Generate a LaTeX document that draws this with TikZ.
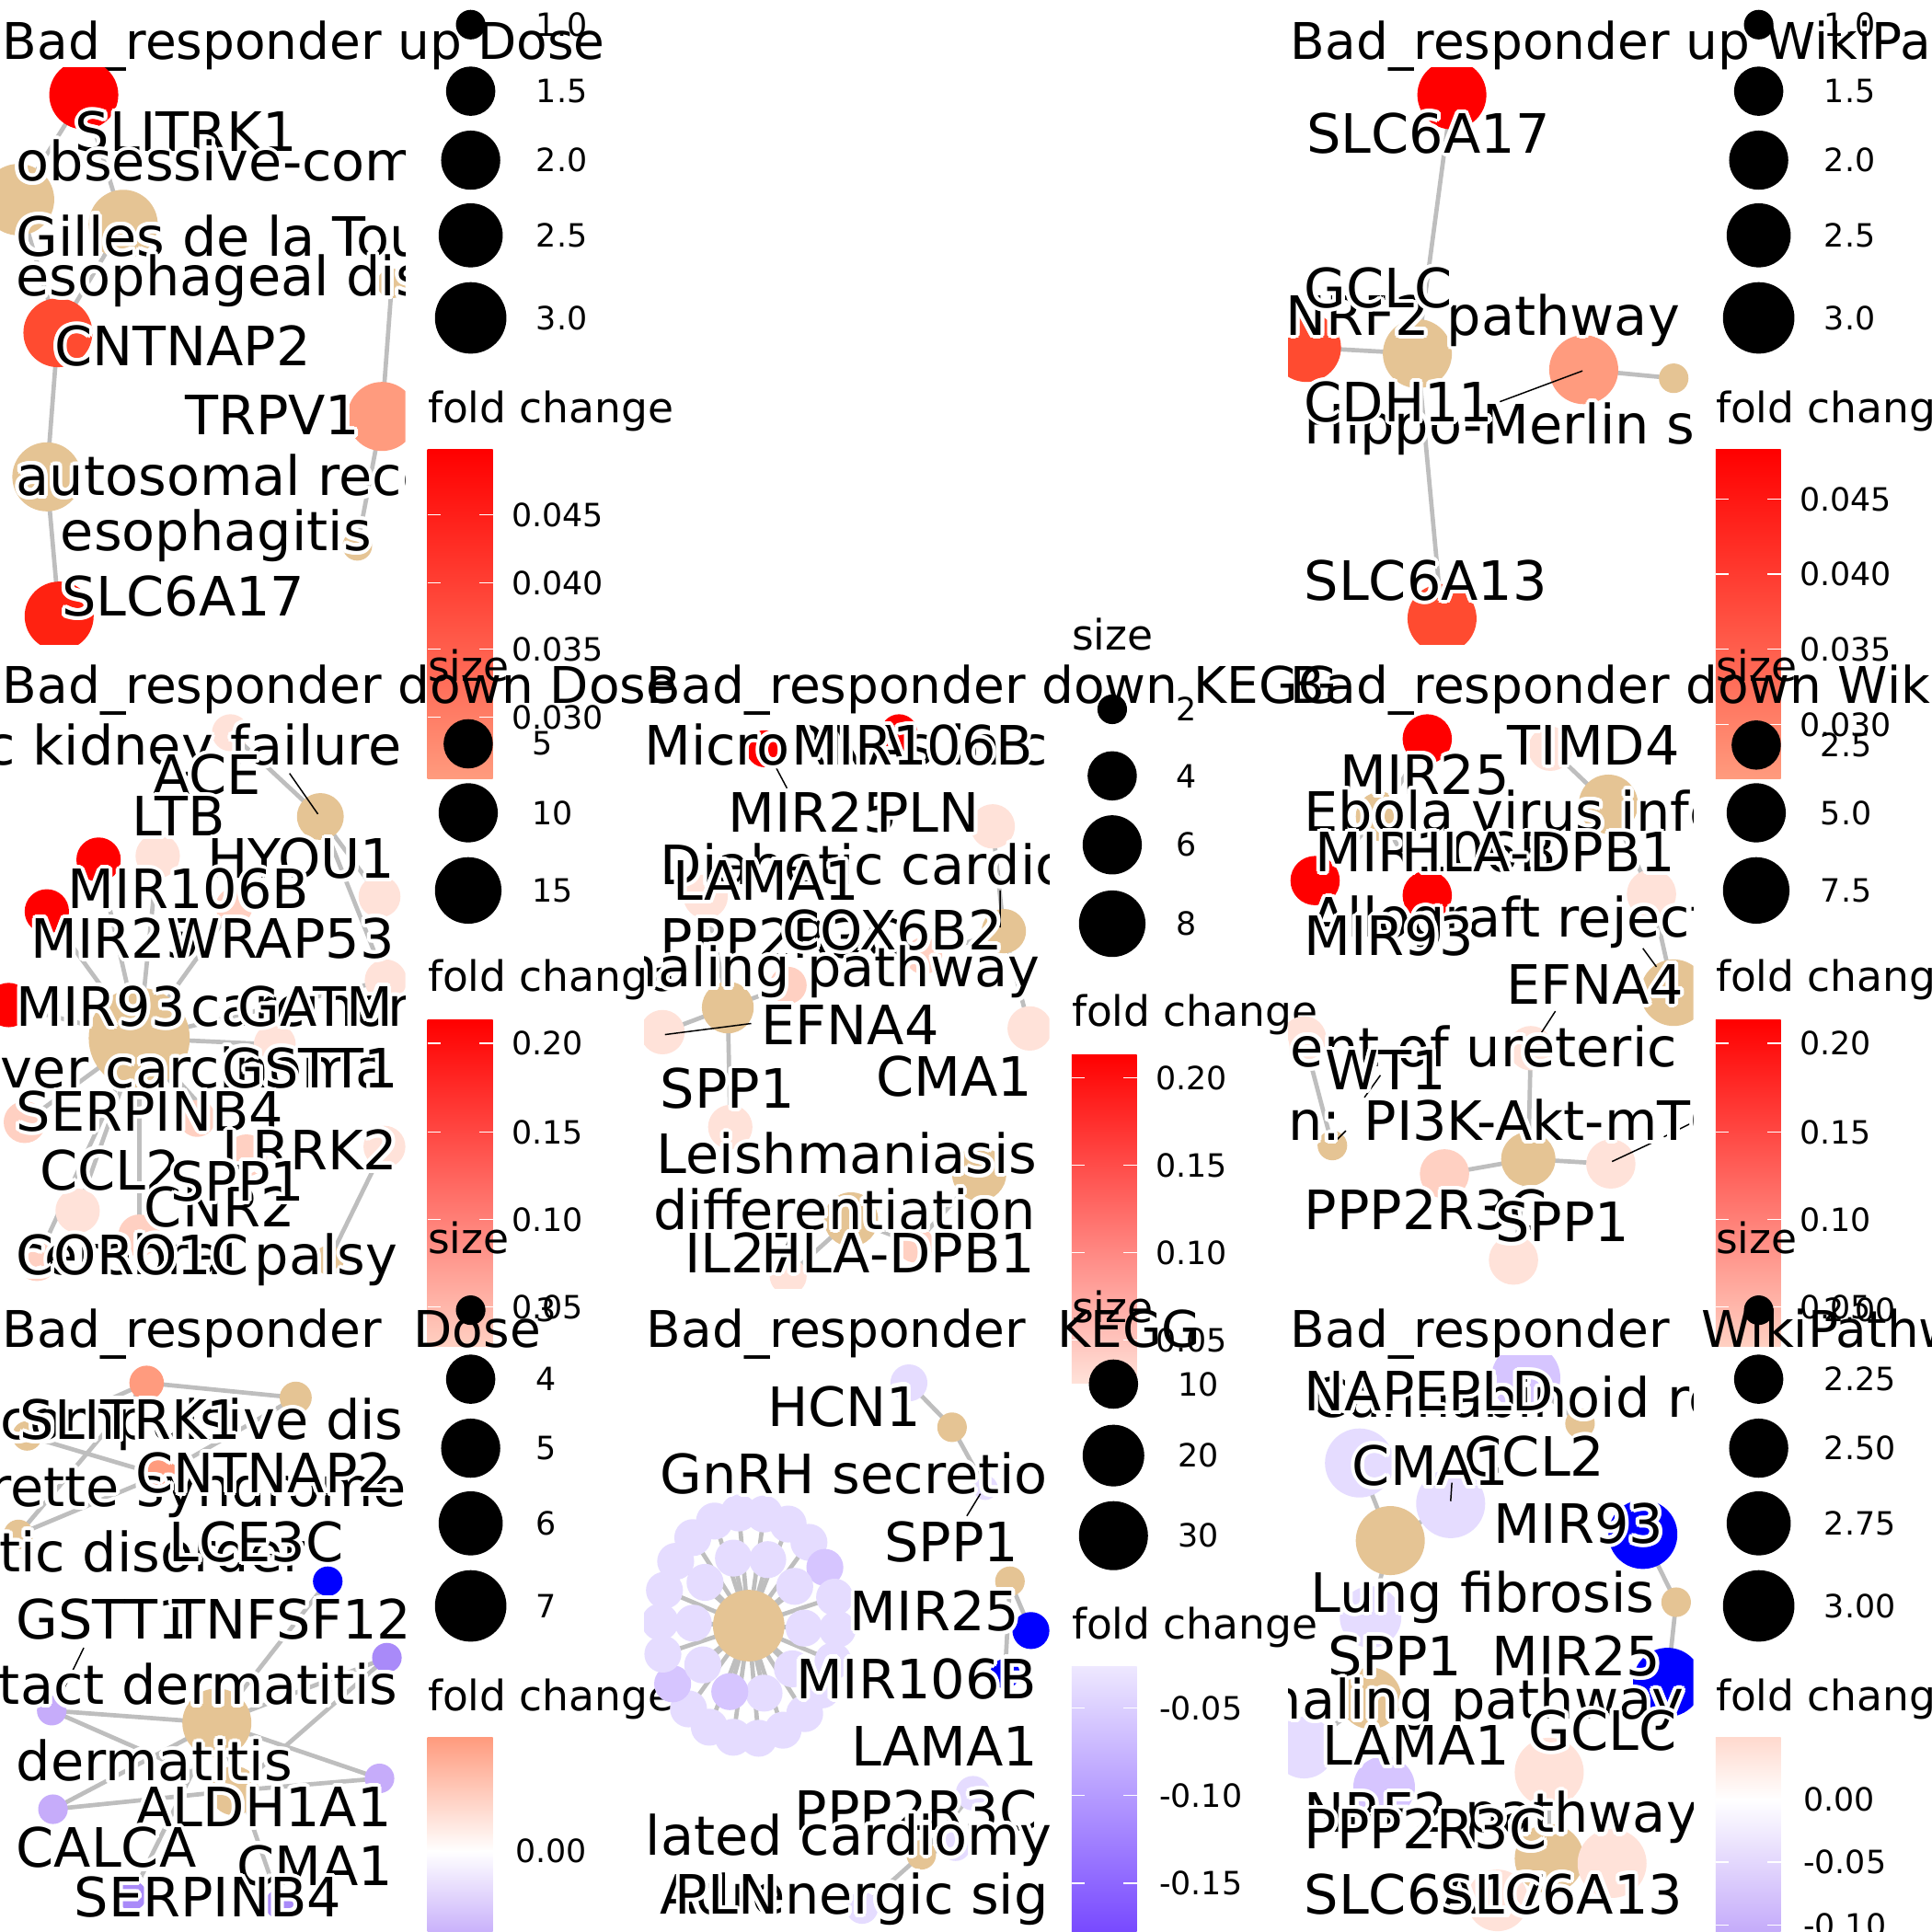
\documentclass[tikz,border=0pt]{standalone}
\usepackage{fontspec}
\setmainfont{DejaVu Sans}
\usepackage{contour}
\contourlength{3pt}

\definecolor{catnode}{HTML}{E5C494}
\definecolor{edgegray}{HTML}{BEBEBE}
\definecolor{fcred}{HTML}{FF0000}
\definecolor{fcredb}{HTML}{FF2211}
\definecolor{fcorange}{HTML}{FF4B30}
\definecolor{fcsalmon}{HTML}{FF9B7E}
\definecolor{fcpink}{HTML}{FFD0C2}
\definecolor{fcpale}{HTML}{FFE2D9}
\definecolor{fcblue}{HTML}{0000FF}
\definecolor{lavpale}{HTML}{E5DCFF}
\definecolor{lavmid}{HTML}{D6C5FF}
\definecolor{lavlight}{HTML}{C6ACFA}
\definecolor{lavdeep}{HTML}{A98AF9}
\definecolor{lavtop}{HTML}{EEE8FF}
\definecolor{lavstrong}{HTML}{7444FF}

\tikzset{
  edge/.style={draw=edgegray, line width=3.5pt},
  leader/.style={draw=black, line width=1.1pt},
  vtx/.style={circle, inner sep=0pt, draw=none, fill=#1},
  glabel/.style={anchor=base west, inner sep=0pt, font=\fontsize{44}{52}\selectfont},
  ptitle/.style={anchor=base west, inner sep=0pt, font=\fontsize{41}{49}\selectfont},
  lhead/.style={anchor=base west, inner sep=0pt, font=\fontsize{34}{41}\selectfont},
  lkey/.style={anchor=west, inner sep=0pt, font=\fontsize{26}{31}\selectfont},
  sizekey/.style={circle, inner sep=0pt, fill=black},
  tickw/.style={draw=white, line width=1pt}
}

\begin{document}
\begin{tikzpicture}[x=1pt, y=-1pt]
\fill[white] (0,0) rectangle (1568,1568);
\useasboundingbox (0,0) rectangle (1568,1568);

% ---- up Dose
\begin{scope}
  \node[ptitle] (a-title) at (2,48) {Bad\_responder up Dose};
  \begin{scope}
    \clip (0,55) rectangle (329,523);
    \def\anodes{a1/68/77/28/fcred, a2/15/162/29/catnode, a3/100/182/28/catnode, a4/318/230/12/catnode, a5/47/270/28/fcorange, a6/310/338/28/fcsalmon, a7/38/387/28/catnode, a8/290/443/12/catnode, a9/48/500/28/fcredb}
    \foreach \n/\x/\y/\r/\c in \anodes \coordinate (\n) at (\x,\y);
    \foreach \u/\v in {a1/a2, a1/a3, a2/a5, a3/a5, a5/a7, a7/a9, a4/a6, a6/a8}
      \draw[edge] (\u) -- (\v);
    \foreach \n/\x/\y/\r/\c in \anodes \node[vtx=\c, minimum size=2*\r] (\n-v) at (\n) {};
    \foreach \n/\x/\y/\t in {a-l1/61/123/SLITRK1, a-l2/13/147/obsessive-compulsive disorder,
      a-l3/13/208/Gilles de la Tourette syndrome, a-l4/13/240/esophageal disease,
      a-l5/44/297/CNTNAP2, a-l6/150/353/TRPV1, a-l7/13/402/autosomal recessive disease,
      a-l8/49/447/esophagitis, a-l9/50/500/SLC6A17}
      \node[glabel] (\n) at (\x,\y) {\contour{white}{\t}};
  \end{scope}
  \foreach \y/\r/\t [count=\i] in {20/12/1.0, 74/20/1.5, 130/24/2.0, 191/26/2.5, 258/29/3.0} {
    \node[sizekey, minimum size=2*\r] (a-k\i) at (382,\y) {};
    \node[lkey] (a-kl\i) at (435,\y) {\t};
  }
  \node[lhead] (a-fc) at (347,343) {fold change};
  \shade[top color=fcred, bottom color=fcsalmon] (347,365) rectangle (400,632);
  \foreach \y/\t [count=\i] in {418/0.045, 473/0.040, 527/0.035, 582/0.030} {
    \draw[tickw] (347,\y) -- (358,\y) (389,\y) -- (400,\y);
    \node[lkey] (a-c\i) at (415,\y) {\t};
  }
\end{scope}

% ---- up WikiPathways
\begin{scope}[shift={(1045.33,0)}]
  \node[ptitle] (b-title) at (2,48) {Bad\_responder up WikiPathways};
  \begin{scope}
    \clip (0,55) rectangle (329,523);
    \def\bnodes{b1/133/77/28/fcred, b2/105/287/28/catnode, b3/15/282/28/fcorange, b4/240/300/28/fcsalmon, b5/313/307/12/catnode, b6/125/502/28/fcorange}
    \foreach \n/\x/\y/\r/\c in \bnodes \coordinate (\n) at (\x,\y);
    \foreach \u/\v in {b1/b2, b3/b2, b2/b6, b4/b5}
      \draw[edge] (\u) -- (\v);
    \foreach \n/\x/\y/\r/\c in \bnodes \node[vtx=\c, minimum size=2*\r] (\n-v) at (\n) {};
    \draw[leader] (172,326) -- (239,301);
    \foreach \n/\x/\y/\t in {b-l1/15/124/SLC6A17, b-l2/-2/272/NRF2 pathway, b-l3/13/250/GCLC,
      b-l4/13/360/Hippo-Merlin signaling dysregulation, b-l5/13/342/CDH11, b-l6/13/487/SLC6A13}
      \node[glabel] (\n) at (\x,\y) {\contour{white}{\t}};
  \end{scope}
  \foreach \y/\r/\t [count=\i] in {20/12/1.0, 74/20/1.5, 130/24/2.0, 191/26/2.5, 258/29/3.0} {
    \node[sizekey, minimum size=2*\r] (b-k\i) at (382,\y) {};
    \node[lkey] (b-kl\i) at (435,\y) {\t};
  }
  \node[lhead] (b-fc) at (347,343) {fold change};
  \shade[top color=fcred, bottom color=fcsalmon] (347,365) rectangle (400,632);
  \foreach \y/\t [count=\i] in {405/0.045, 466/0.040, 527/0.035, 588/0.030} {
    \draw[tickw] (347,\y) -- (358,\y) (389,\y) -- (400,\y);
    \node[lkey] (b-c\i) at (415,\y) {\t};
  }
\end{scope}

% ---- down Dose
\begin{scope}[shift={(0,522.67)}]
  \node[ptitle] (c-title) at (2,48) {Bad\_responder down Dose};
  \begin{scope}
    \clip (0,55) rectangle (329,523);
    \def\cnodes{c0/113/320/41/catnode, c1/80/175/18/fcred, c2/38/217/18/fcred, c3/7/293/18/fcred, c4/128/172/18/fcpale, c5/187/72/15/fcpale, c6/260/140/19/catnode, c7/308/205/17/fcpale, c8/313/273/17/fcpale, c9/223/325/17/fcpale, c10/190/213/15/fcpink, c11/20/388/17/fcpink, c12/63/460/18/fcpale, c13/312/408/17/fcpale, c14/267/500/12/catnode, c15/200/415/17/fcpink, c16/113/480/17/fcpink, c17/160/385/15/fcpink, c18/30/500/17/fcpink}
    \foreach \n/\x/\y/\r/\c in \cnodes \coordinate (\n) at (\x,\y);
    \foreach \u/\v in {c0/c1, c0/c2, c0/c3, c0/c4, c0/c9, c0/c10, c0/c11, c0/c12, c0/c15, c0/c16, c0/c17, c0/c18, c0/c8, c5/c6, c6/c7, c6/c8, c13/c14}
      \draw[edge] (\u) -- (\v);
    \foreach \n/\x/\y/\r/\c in \cnodes \node[vtx=\c, minimum size=2*\r] (\n-v) at (\n) {};
    \draw[leader] (235,105) -- (258,138);
    \foreach \n/\x/\y/\t in {c-l1/-148/98/chronic kidney failure, c-l2/124/122/ACE, c-l3/107/156/LTB,
      c-l4/168/190/HYOU1, c-l5/55/215/MIR106B, c-l6/25/255/MIR25, c-l7/135/255/WRAP53,
      c-l8/155/310/carcinoma, c-l9/13/310/MIR93, c-l10/193/310/GATM, c-l11/-24/360/liver carcinoma,
      c-l12/180/360/GSTT1, c-l13/13/395/SERPINB4, c-l14/180/427/LRRK2, c-l15/32/443/CCL2,
      c-l16/117/473/CNR2, c-l17/138/452/SPP1, c-l18/12/512/cerebral palsy, c-l19/13/512/CORO1C}
      \node[glabel] (\n) at (\x,\y) {\contour{white}{\t}};
  \end{scope}
  \node[lhead] (c-size) at (347,30) {size};
  \foreach \y/\r/\t [count=\i] in {81/20/5, 137/24/10, 200/27/15} {
    \node[sizekey, minimum size=2*\r] (c-k\i) at (380,\y) {};
    \node[lkey] (c-kl\i) at (432,\y) {\t};
  }
  \node[lhead] (c-fc) at (347,282) {fold change};
  \shade[top color=fcred, bottom color=fcpink] (347,305) rectangle (400,570);
  \foreach \y/\t [count=\i] in {324/0.20, 396/0.15, 467/0.10, 538/0.05} {
    \draw[tickw] (347,\y) -- (358,\y) (389,\y) -- (400,\y);
    \node[lkey] (c-c\i) at (415,\y) {\t};
  }
\end{scope}

% ---- down KEGG
\begin{scope}[shift={(522.67,522.67)}]
  \node[ptitle] (d-title) at (2,48) {Bad\_responder down KEGG};
  \begin{scope}
    \clip (0,55) rectangle (329,523);
    \def\dnodes{d1/98/85/15/fcred, d2/207/72/15/fcred, d3/283/148/18/fcpale, d4/50/205/18/fcpale, d5/292/233/18/catnode, d6/117/277/15/fcpink, d7/68/295/21/catnode, d8/15/315/18/fcpale, d9/313/312/18/fcpale, d10/70/392/18/fcpale, d11/272/430/22/catnode, d12/168/467/22/catnode, d13/117/513/15/fcpale, d14/227/253/15/fcpink, d16/220/487/15/fcpink}
    \foreach \n/\x/\y/\r/\c in \dnodes \coordinate (\n) at (\x,\y);
    \foreach \u/\v in {d7/d8, d7/d10, d7/d6, d7/d4, d5/d14, d5/d9, d5/d3, d12/d13, d11/d16, d12/d16}
      \draw[edge] (\u) -- (\v);
    \foreach \n/\x/\y/\r/\c in \dnodes \node[vtx=\c, minimum size=2*\r] (\n-v) at (\n) {};
    \draw[leader] (107,100) -- (116,117) (289,200) -- (289,230) (17,317) -- (87,308);
    \foreach \n/\x/\y/\t in {d-l1/0/98/MicroRNAs in cancer, d-l2/120/98/MIR106B, d-l3/68/153/MIR25,
      d-l4/188/153/PLN, d-l5/13/195/Diabetic cardiomyopathy, d-l6/23/208/LAMA1, d-l7/13/255/PPP2R3C,
      d-l8/112/248/COX6B2, d-l9/-80/278/signaling pathway, d-l10/95/325/EFNA4, d-l11/188/367/CMA1,
      d-l12/13/377/SPP1, d-l13/10/430/Leishmaniasis, d-l14/-207/475/Th17 cell differentiation,
      d-l15/33/510/IL27, d-l16/95/510/HLA-DPB1}
      \node[glabel] (\n) at (\x,\y) {\contour{white}{\t}};
  \end{scope}
  \node[lhead] (d-size) at (347,5) {size};
  \foreach \y/\r/\t [count=\i] in {53/12/2, 107/20/4, 163/24/6, 227/27/8} {
    \node[sizekey, minimum size=2*\r] (d-k\i) at (380,\y) {};
    \node[lkey] (d-kl\i) at (432,\y) {\t};
  }
  \node[lhead] (d-fc) at (347,310) {fold change};
  \shade[top color=fcred, bottom color=fcpale] (347,333) rectangle (400,600);
  \foreach \y/\t [count=\i] in {352/0.20, 423/0.15, 494/0.10, 565/0.05} {
    \draw[tickw] (347,\y) -- (358,\y) (389,\y) -- (400,\y);
    \node[lkey] (d-c\i) at (415,\y) {\t};
  }
\end{scope}

% ---- down WikiPathways
\begin{scope}[shift={(1045.33,522.67)}]
  \node[ptitle] (e-title) at (2,48) {Bad\_responder down WikiPathways};
  \begin{scope}
    \clip (0,55) rectangle (329,523);
    \def\enodes{e1/113/77/20/fcred, e2/213/85/18/fcpale, e3/260/130/24/catnode, e15/75/140/20/catnode, e4/22/192/20/fcred, e5/113/204/20/fcred, e6/295/203/20/fcpale, e7/313/283/27/catnode, e8/197/328/18/fcpale, e9/13/320/18/fcpale, e10/36/407/12/catnode, e11/195/418/22/catnode, e12/127/430/20/fcpink, e13/262/422/20/fcpale, e14/183/500/20/fcpale}
    \foreach \n/\x/\y/\r/\c in \enodes \coordinate (\n) at (\x,\y);
    \foreach \u/\v in {e2/e3, e6/e3, e6/e7, e15/e1, e15/e4, e15/e5, e9/e10, e8/e11, e11/e12, e11/e13, e11/e14}
      \draw[edge] (\u) -- (\v);
    \foreach \n/\x/\y/\r/\c in \enodes \node[vtx=\c, minimum size=2*\r] (\n-v) at (\n) {};
    \draw[leader] (288,247) -- (299,262) (217,298) -- (204,318) (75,350) -- (62,368)
      (47,395) -- (37,405) (263,420) -- (295,405) (305,400) -- (329,388);
    \foreach \n/\x/\y/\t in {e-l1/178/98/TIMD4, e-l2/42/122/MIR25, e-l3/13/152/Ebola virus infection,
      e-l4/22/185/MIR106B, e-l5/92/185/HLA-DPB1, e-l6/18/238/Allograft rejection, e-l7/13/253/MIR93,
      e-l8/177/292/EFNA4, e-l9/-222/343/Development of ureteric collecting system, e-l10/30/362/WT1,
      e-l11/-300/403/Focal adhesion: PI3K-Akt-mTOR-signaling pathway, e-l12/13/475/PPP2R3C,
      e-l13/168/485/SPP1}
      \node[glabel] (\n) at (\x,\y) {\contour{white}{\t}};
  \end{scope}
  \node[lhead] (e-size) at (347,30) {size};
  \foreach \y/\r/\t [count=\i] in {82/20/2.5, 137/24/5.0, 200/27/7.5} {
    \node[sizekey, minimum size=2*\r] (e-k\i) at (380,\y) {};
    \node[lkey] (e-kl\i) at (432,\y) {\t};
  }
  \node[lhead] (e-fc) at (347,282) {fold change};
  \shade[top color=fcred, bottom color=fcpink] (347,305) rectangle (400,570);
  \foreach \y/\t [count=\i] in {324/0.20, 396/0.15, 467/0.10, 538/0.05} {
    \draw[tickw] (347,\y) -- (358,\y) (389,\y) -- (400,\y);
    \node[lkey] (e-c\i) at (415,\y) {\t};
  }
\end{scope}

% ---- all Dose
\begin{scope}[shift={(0,1045.33)}]
  \node[ptitle] (f-title) at (2,48) {Bad\_responder~~Dose};
  \begin{scope}
    \clip (0,55) rectangle (329,523);
    \def\fnodes{f1/119/77/14/fcsalmon, f2/240/89/13/catnode, f3/22/120/12/catnode, f4/15/200/12/catnode, f5/130/152/14/fcsalmon, f6/266/238/12/fcblue, f7/314/300/12/lavdeep, f8/42/343/12/lavlight, f9/176/353/28/catnode, f10/190/408/20/catnode, f11/308/398/12/lavlight, f12/43/423/12/lavlight, f13/107/493/12/lavdeep, f14/227/500/12/lavdeep}
    \foreach \n/\x/\y/\r/\c in \fnodes \coordinate (\n) at (\x,\y);
    \foreach \u/\v in {f1/f2, f1/f3, f1/f4, f2/f5, f3/f5, f4/f5, f9/f6, f9/f7, f9/f8, f9/f11, f9/f12, f9/f13, f9/f14, f10/f8, f10/f11, f10/f12, f10/f7}
      \draw[edge] (\u) -- (\v);
    \foreach \n/\x/\y/\r/\c in \fnodes \node[vtx=\c, minimum size=2*\r] (\n-v) at (\n) {};
    \draw[leader] (68,292) -- (48,333);
    \foreach \n/\x/\y/\t in {f-l1/-232/123/obsessive-compulsive disorder, f-l2/16/123/SLITRK1,
      f-l3/-340/177/Gilles de la Tourette syndrome, f-l4/110/166/CNTNAP2, f-l5/-108/230/autistic disorder,
      f-l6/137/222/LCE3C, f-l7/13/285/GSTT1, f-l8/140/285/TNFSF12, f-l9/-80/338/contact dermatitis,
      f-l10/13/400/dermatitis, f-l11/110/437/ALDH1A1, f-l12/13/470/CALCA, f-l13/192/485/CMA1,
      f-l14/60/510/SERPINB4}
      \node[glabel] (\n) at (\x,\y) {\contour{white}{\t}};
  \end{scope}
  \node[lhead] (f-size) at (347,-28) {size};
  \foreach \y/\r/\t [count=\i] in {18/12/3, 74/20/4, 130/24/5, 191/26/6, 258/29/7} {
    \node[sizekey, minimum size=2*\r] (f-k\i) at (382,\y) {};
    \node[lkey] (f-kl\i) at (435,\y) {\t};
  }
  \node[lhead] (f-fc) at (347,343) {fold change};
  \shade[top color=fcsalmon, bottom color=white] (347,365) rectangle (400,457.5);
  \shade[top color=white, bottom color=lavlight!90!lavdeep] (347,457) rectangle (400,530);
  \draw[tickw] (347,457) -- (358,457) (389,457) -- (400,457);
  \node[lkey] (f-c1) at (418,457) {0.00};
\end{scope}

% ---- all KEGG
\begin{scope}[shift={(522.67,1045.33)}]
  \node[ptitle] (g-title) at (2,48) {Bad\_responder~~KEGG};
  \begin{scope}
    \clip (0,55) rectangle (329,523);
    \coordinate (g0) at (85,274);
    \foreach \i in {1,...,22} \coordinate (g-o\i) at ({85+72*cos(360/22*\i-80)},{274+92*sin(360/22*\i-80)});
    \foreach \i in {1,...,10} \coordinate (g-i\i) at ({85+45*cos(36*\i-70)},{274+57*sin(36*\i-70)});
    \def\gnodes{g1/215/77/15/lavpale, g2/250/113/12/catnode, g3/277/162/10/lavpale, g4/297/238/12/catnode, g5/314/278/15/fcblue, g6/293/313/12/fcblue, g7/267/410/14/lavpale, g8/225/460/12/catnode, g9/253/453/12/lavpale, g10/177/503/13/lavpale}
    \foreach \n/\x/\y/\r/\c in \gnodes \coordinate (\n) at (\x,\y);
    \foreach \i in {1,...,22} \draw[edge] (g0) -- (g-o\i);
    \foreach \i in {1,...,10} \draw[edge] (g0) -- (g-i\i);
    \foreach \u/\v in {g1/g2, g2/g3, g4/g5, g4/g6, g8/g9, g8/g10, g8/g7}
      \draw[edge] (\u) -- (\v);
    \foreach \i/\c in {1/lavpale, 2/lavpale, 3/lavmid, 4/lavpale, 5/lavpale, 6/lavpale, 7/lavpale, 8/lavpale, 9/lavpale, 10/lavpale, 11/lavpale, 12/lavpale, 13/lavpale, 14/lavmid, 15/lavpale, 16/lavpale, 17/lavpale, 18/lavpale, 19/lavpale, 20/lavpale, 21/lavpale, 22/lavpale}
      \node[vtx=\c, minimum size=30] (g-o\i-v) at (g-o\i) {};
    \foreach \i/\c in {1/lavpale, 2/lavpale, 3/lavpale, 4/lavpale, 5/lavmid, 6/lavpale, 7/lavpale, 8/lavpale, 9/lavpale, 10/lavpale}
      \node[vtx=\c, minimum size=30] (g-i\i-v) at (g-i\i) {};
    \node[vtx=catnode, minimum size=58] (g0-v) at (g0) {};
    \foreach \n/\x/\y/\r/\c in \gnodes \node[vtx=\c, minimum size=2*\r] (\n-v) at (\n) {};
    \draw[leader] (262,185) -- (273,167);
    \foreach \n/\x/\y/\t in {g-l1/100/112/HCN1, g-l2/13/167/GnRH secretion, g-l3/195/222/SPP1,
      g-l4/167/278/MIR25, g-l5/123/333/MIR106B, g-l6/168/388/LAMA1, g-l7/122/440/PPP2R3C,
      g-l8/-45/460/Dilated cardiomyopathy, g-l9/13/508/Adrenergic signaling in cardiomyocytes,
      g-l10/25/508/PLN}
      \node[glabel] (\n) at (\x,\y) {\contour{white}{\t}};
  \end{scope}
  \node[lhead] (g-size) at (347,28) {size};
  \foreach \y/\r/\t [count=\i] in {78/20/10, 136/25/20, 201/28/30} {
    \node[sizekey, minimum size=2*\r] (g-k\i) at (381,\y) {};
    \node[lkey] (g-kl\i) at (433,\y) {\t};
  }
  \node[lhead] (g-fc) at (347,285) {fold change};
  \shade[top color=lavtop, bottom color=lavstrong] (347,307) rectangle (400,530);
  \foreach \y/\t [count=\i] in {341/-0.05, 412/-0.10, 483/-0.15} {
    \draw[tickw] (347,\y) -- (358,\y) (389,\y) -- (400,\y);
    \node[lkey] (g-c\i) at (418,\y) {\t};
  }
\end{scope}

% ---- all WikiPathways
\begin{scope}[shift={(1045.33,1045.33)}]
  \node[ptitle] (h-title) at (2,48) {Bad\_responder~~WikiPathways};
  \begin{scope}
    \clip (0,55) rectangle (329,523);
    \def\hnodes{h1/193/73/28/lavmid, h2/237/110/12/catnode, h3/58/142/28/lavpale, h4/132/175/28/lavpale, h5/83/205/28/catnode, h6/288/200/28/fcblue, h7/315/255/12/catnode, h8/67/267/25/lavpale, h9/308/320/28/fcblue, h10/67/333/25/catnode, h11/13/373/25/lavpale, h12/78/405/25/lavmid, h13/212/393/28/fcpale, h14/212/463/28/catnode, h15/263/467/28/fcpale, h16/170/497/25/fcpale}
    \foreach \n/\x/\y/\r/\c in \hnodes \coordinate (\n) at (\x,\y);
    \foreach \u/\v in {h1/h2, h3/h5, h4/h5, h5/h8, h6/h7, h7/h9, h10/h8, h10/h11, h10/h12, h13/h14, h14/h15, h14/h16}
      \draw[edge] (\u) -- (\v);
    \foreach \n/\x/\y/\r/\c in \hnodes \node[vtx=\c, minimum size=2*\r] (\n-v) at (\n) {};
    \draw[leader] (133,158) -- (132,173);
    \foreach \n/\x/\y/\t in {h-l1/18/105/Cannabinoid receptor signaling, h-l2/13/100/NAPEPLD,
      h-l4/143/153/CCL2, h-l3/52/160/CMA1, h-l5/167/207/MIR93, h-l6/18/263/Lung fibrosis,
      h-l7/32/315/SPP1, h-l8/165/315/MIR25, h-l9/-80/350/signaling pathway, h-l10/195/375/GCLC,
      h-l11/28/387/LAMA1, h-l12/13/442/NRF2 pathway, h-l13/13/455/PPP2R3C, h-l14/13/508/SLC6A17,
      h-l15/123/508/SLC6A13}
      \node[glabel] (\n) at (\x,\y) {\contour{white}{\t}};
  \end{scope}
  \node[lhead] (h-size) at (347,-28) {size};
  \foreach \y/\r/\t [count=\i] in {18/12/2.00, 74/20/2.25, 130/24/2.50, 191/26/2.75, 258/29/3.00} {
    \node[sizekey, minimum size=2*\r] (h-k\i) at (382,\y) {};
    \node[lkey] (h-kl\i) at (435,\y) {\t};
  }
  \node[lhead] (h-fc) at (347,343) {fold change};
  \shade[top color=fcpink!80!white, bottom color=white] (347,365) rectangle (400,415.5);
  \shade[top color=white, bottom color=lavlight!80!lavdeep] (347,415) rectangle (400,530);
  \foreach \y/\t [count=\i] in {415/0.00, 466/-0.05, 517/-0.10} {
    \draw[tickw] (347,\y) -- (358,\y) (389,\y) -- (400,\y);
    \node[lkey] (h-c\i) at (418,\y) {\t};
  }
\end{scope}
\end{tikzpicture}
\end{document}
